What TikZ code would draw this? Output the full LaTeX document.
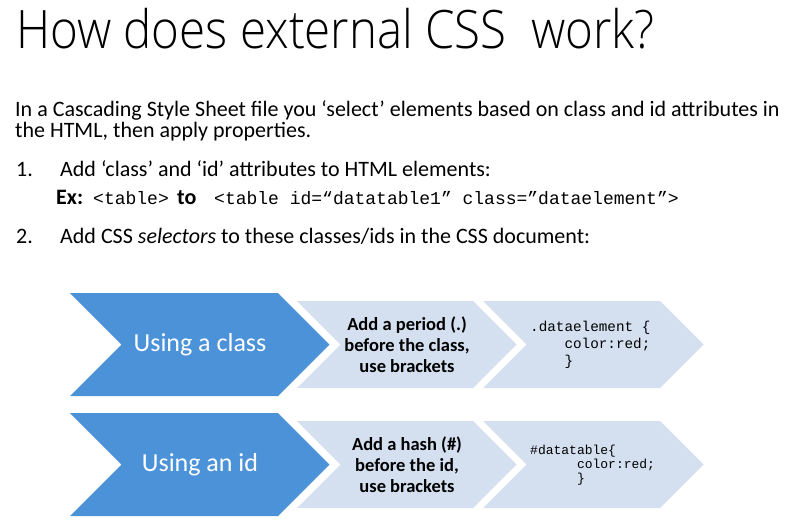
\documentclass[tikz,border=0pt]{standalone}
\usepackage{fontspec}
\setmainfont{Carlito}
\IfFontExistsTF{Open Sans Light}{\newfontfamily\titlefont{Open Sans Light}}{\newfontfamily\titlefont{Open Sans}}
\setmonofont{Liberation Mono}
\definecolor{chevblue}{HTML}{4C92D8}
\definecolor{chevlight}{HTML}{D4E0F0}
\tikzset{
  txt/.style={inner sep=0pt, anchor=base west},
  body/.style={txt, font=\fontsize{22}{24}\selectfont},
  bodybold/.style={txt, font=\bfseries\fontsize{22}{24}\selectfont},
  bigchev/.style={fill=chevblue},
  smallchev/.style={fill=chevlight},
  labelbig/.style={inner sep=0pt, text=white, font=\fontsize{26}{30}\selectfont},
  labelmid/.style={inner sep=0pt, align=center, font=\bfseries\fontsize{18.5}{21}\selectfont},
  codeA/.style={inner sep=0pt, anchor=west, align=left, font=\ttfamily\fontsize{14.3}{16.8}\selectfont},
  codeB/.style={inner sep=0pt, anchor=west, align=left, font=\ttfamily\fontsize{13}{14.2}\selectfont},
  mono/.style={txt, font=\ttfamily\fontsize{18}{22}\selectfont}
}
\begin{document}
\begin{tikzpicture}[x=1pt,y=-1pt]
\useasboundingbox (0,0) rectangle (802,530);
% title
\node[txt, font=\titlefont\fontsize{53}{60}\selectfont] (title) at (16,48) {\scalebox{0.895}[1]{How does external CSS~~work?}};
% body
\node[body] (l1) at (15,116) {In a Cascading Style Sheet file you ‘select’ elements based on class and id attributes in};
\node[body] (l2) at (15,137) {the HTML, then apply properties.};
\node[body] (n1) at (16,176) {1.};
\node[body] (i1) at (60,176) {Add ‘class’ and ‘id’ attributes to HTML elements:};
\node[bodybold] (ex) at (56,204) {Ex:};
\node[mono] (t1) at (93,204) {<table>};
\node[bodybold] (to) at (177,204) {to};
\node[mono] (t2) at (214,204) {<table id=“datatable1” class=”dataelement”>};
\node[body] (n2) at (16,243) {2.};
\node[body] (i2) at (60,243) {Add CSS \textit{selectors} to these classes/ids in the CSS document:};
% row 1
\fill[bigchev] (70,293) -- (278,293) -- (329.5,344.5) -- (278,396) -- (70,396) -- (121.5,344.5) -- cycle;
\fill[smallchev] (297,301) -- (473,301) -- (516.5,344.5) -- (473,388) -- (297,388) -- (340.5,344.5) -- cycle;
\fill[smallchev] (483,301) -- (660,301) -- (703.5,344.5) -- (660,388) -- (483,388) -- (526.5,344.5) -- cycle;
\node[labelbig] (c1) at (200,345) {Using a class};
\node[labelmid] (m1) at (407,345) {Add a period (.)\\before the class,\\use brackets};
\node[codeA] (k1) at (530,345) {.dataelement \{\\\phantom{xxxx}color:red;\\\phantom{xxxx}\}};
% row 2
\fill[bigchev] (70,413) -- (278,413) -- (329.5,464.5) -- (278,516) -- (70,516) -- (121.5,464.5) -- cycle;
\fill[smallchev] (297,421) -- (473,421) -- (516.5,464.5) -- (473,508) -- (297,508) -- (340.5,464.5) -- cycle;
\fill[smallchev] (483,421) -- (660,421) -- (703.5,464.5) -- (660,508) -- (483,508) -- (526.5,464.5) -- cycle;
\node[labelbig] (c2) at (200,465) {Using an id};
\node[labelmid] (m2) at (407,465) {Add a hash (\#)\\before the id,\\use brackets};
\node[codeB] (k2) at (530,465) {\#datatable\{\\\phantom{xxxxxx}color:red;\\\phantom{xxxxxx}\}};
\end{tikzpicture}
\end{document}
